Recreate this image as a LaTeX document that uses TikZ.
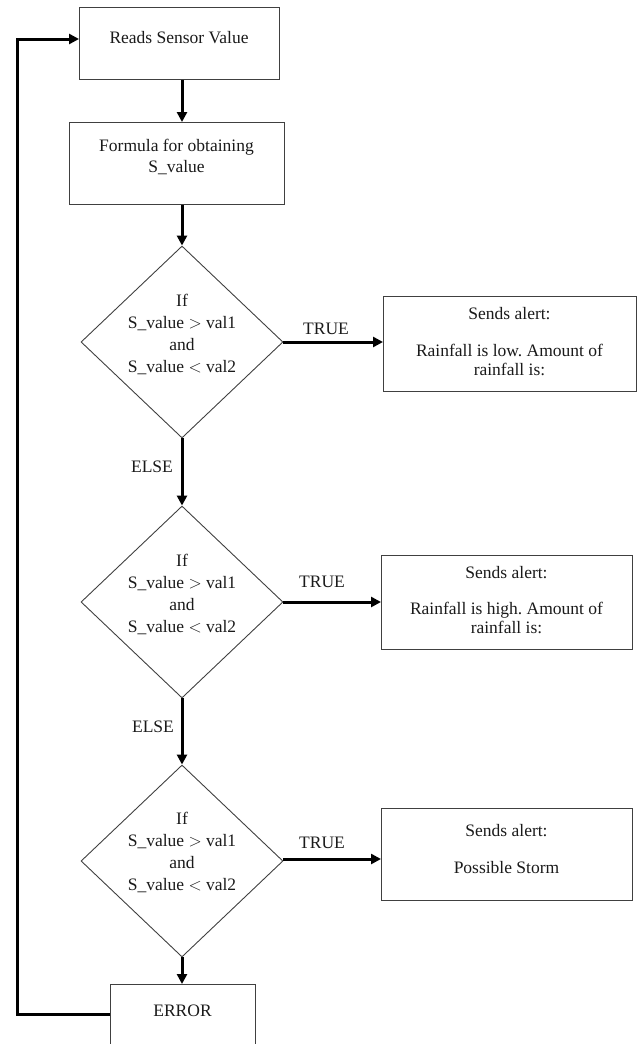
\documentclass[tikz,border=0pt]{standalone}
\usepackage{fontspec}
\setmainfont{Liberation Serif}
\usetikzlibrary{shapes.geometric,arrows.meta}
\definecolor{edge}{HTML}{404040}
\definecolor{ink}{HTML}{1A1A1A}
\frenchspacing
\tikzset{
  boxnode/.style={draw=edge, line width=1pt, rectangle, inner sep=0pt, anchor=north west},
  decnode/.style={draw=edge, line width=0.9pt, diamond, inner sep=0pt, minimum width=202pt, minimum height=192pt},
  txt/.style={inner sep=0pt, align=center, text=ink, font=\fontsize{17.5}{22}\selectfont},
  lbl/.style={inner sep=0pt, text=ink, font=\fontsize{17.5}{22}\selectfont},
  arr/.style={line width=3pt, -{Triangle[length=10pt,width=10pt]}},
}
\begin{document}
\begin{tikzpicture}[x=1pt,y=-1pt]
\useasboundingbox (0,0) rectangle (638,1044);
\clip (0,0) rectangle (638,1044);
% boxes
\node[boxnode, minimum width=200pt, minimum height=72pt] (b1) at (79,7) {};
\node[boxnode, minimum width=215pt, minimum height=82pt] (b2) at (69,122) {};
\node[decnode] (d1) at (182,342) {};
\node[decnode] (d2) at (182,602) {};
\node[decnode] (d3) at (182,861) {};
\node[boxnode, minimum width=253pt, minimum height=95pt] (r1) at (383,296) {};
\node[boxnode, minimum width=251pt, minimum height=94pt] (r2) at (381,555) {};
\node[boxnode, minimum width=251pt, minimum height=92pt] (r3) at (381,808) {};
\node[boxnode, minimum width=145pt, minimum height=70pt] (err) at (110,984) {};
% texts
\node[txt] (t1) at (179,38) {Reads Sensor Value};
\node[txt] (t2) at (176.5,157) {Formula for obtaining\\[-1pt]S\_value};
\node[txt] (dt1) at (182,334) {If\\S\_value $>$ val1\\and\\S\_value $<$ val2};
\node[txt] (dt2) at (182,594) {If\\S\_value $>$ val1\\and\\S\_value $<$ val2};
\node[txt] (dt3) at (182,852) {If\\S\_value $>$ val1\\and\\S\_value $<$ val2};
\node[txt] (r1a) at (509.5,314) {Sends alert:};
\node[txt, font=\fontsize{17.5}{19}\selectfont] (r1b) at (509.5,360) {Rainfall is low. Amount of\\rainfall is:};
\node[txt] (r2a) at (506.5,573) {Sends alert:};
\node[txt, font=\fontsize{17.5}{19}\selectfont] (r2b) at (506.5,618) {Rainfall is high. Amount of\\rainfall is:};
\node[txt] (r3a) at (506.5,831) {Sends alert:};
\node[txt] (r3b) at (506.5,868) {Possible Storm};
\node[txt] (et) at (182.5,1011) {ERROR};
% connector labels
\node[lbl] (true1) at (326,329) {TRUE};
\node[lbl] (true2) at (322,582) {TRUE};
\node[lbl] (true3) at (322,843) {TRUE};
\node[lbl] (else1) at (152,467) {ELSE};
\node[lbl] (else2) at (153,727) {ELSE};
% connectors
\draw[arr] (b1.south -| d1.north) -- (b2.north -| d1.north);
\draw[arr] (b2.south -| d1.north) -- (d1.north);
\draw[arr] (d1.east) -- (d1.east -| r1.west);
\draw[arr] (d1.south) -- (d2.north);
\draw[arr] (d2.east) -- (d2.east -| r2.west);
\draw[arr] (d2.south) -- (d3.north);
\draw[arr] ([yshift=2pt]d3.east) -- ([yshift=2pt]d3.east -| r3.west);
\draw[arr] (d3.south) -- (err.north -| d3.south);
\coordinate (lp) at (17,39);
\draw[arr] ([yshift=-30pt]err.north west) -| (lp) -- (lp -| b1.west);
\end{tikzpicture}
\end{document}
